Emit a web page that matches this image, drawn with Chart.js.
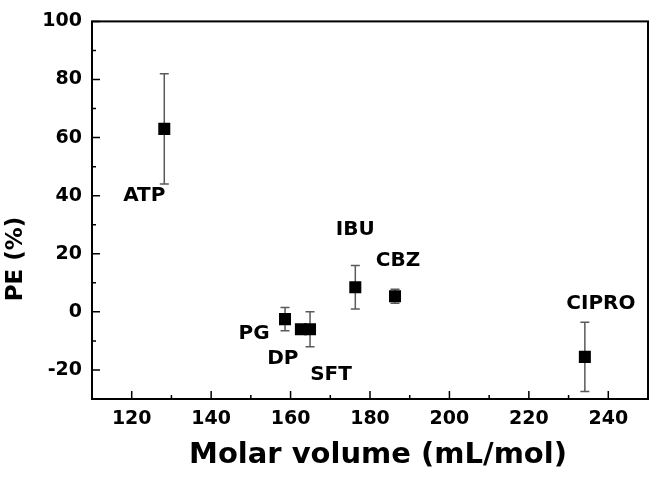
<!DOCTYPE html>
<html lang="en">
<head>
    <meta charset="UTF-8">
    <title>PE vs Molar volume</title>
    <script src="https://cdn.jsdelivr.net/npm/chart.js"></script>
    <style>
        html, body { margin: 0; padding: 0; background: #fff; }
        #wrap { width: 661px; height: 480px; }
    </style>
</head>
<body>
    <div id="wrap"><canvas id="peChart"></canvas></div>

    <script>
        const drugNames = ['ATP', 'PG', 'DP', 'SFT', 'IBU', 'CBZ', 'CIPRO'];
        const molarVolume = [128.2, 158.6, 162.6, 164.9, 176.3, 186.3, 234.1];
        const peValues = [63, -2.5, -6, -6, 8.5, 5.4, -15.5];
        const peErrors = [19, 4, 0, 6, 7.5, 2.4, 11.9];

        const xTicks = [120, 140, 160, 180, 200, 220, 240];
        const xMinorTicks = [130, 150, 170, 190, 210, 230];
        const yTicks = [-20, 0, 20, 40, 60, 80, 100];
        const yMinorTicks = [-10, 10, 30, 50, 70, 90];

        const FONT = '"DejaVu Sans", "Liberation Sans", Arial, sans-serif';

        // label offsets in px from each point
        const labelOffsets = {
            ATP: [-20, 67], PG: [-31, 15], DP: [-18, 30], SFT: [21, 46],
            IBU: [0, -57], CBZ: [3, -35], CIPRO: [16, -53]
        };

        const framePlugin = {
            id: 'framePlugin',
            beforeDatasetsDraw(chart) {
                const ctx = chart.ctx;
                const xs = chart.scales.x, ys = chart.scales.y;
                ctx.save();
                // error bars
                ctx.strokeStyle = '#5a5a5a';
                ctx.lineWidth = 1.5;
                molarVolume.forEach((mv, i) => {
                    const e = peErrors[i];
                    if (!e) return;
                    const px = xs.getPixelForValue(mv);
                    const top = ys.getPixelForValue(peValues[i] + e);
                    const bot = ys.getPixelForValue(peValues[i] - e);
                    ctx.beginPath();
                    ctx.moveTo(px, top); ctx.lineTo(px, bot);
                    ctx.moveTo(px - 4.5, top); ctx.lineTo(px + 4.5, top);
                    ctx.moveTo(px - 4.5, bot); ctx.lineTo(px + 4.5, bot);
                    ctx.stroke();
                });
                ctx.restore();
            },
            afterDraw(chart) {
                const ctx = chart.ctx;
                const a = chart.chartArea;
                const xs = chart.scales.x, ys = chart.scales.y;
                ctx.save();
                // frame
                ctx.strokeStyle = '#000';
                ctx.lineWidth = 2;
                ctx.strokeRect(a.left, a.top, a.right - a.left, a.bottom - a.top);

                // inward ticks
                ctx.lineWidth = 1.5;
                ctx.beginPath();
                xTicks.forEach(v => { const p = xs.getPixelForValue(v); ctx.moveTo(p, a.bottom); ctx.lineTo(p, a.bottom - 8); });
                xMinorTicks.forEach(v => { const p = xs.getPixelForValue(v); ctx.moveTo(p, a.bottom); ctx.lineTo(p, a.bottom - 4); });
                yTicks.forEach(v => { const p = ys.getPixelForValue(v); ctx.moveTo(a.left, p); ctx.lineTo(a.left + 8, p); });
                yMinorTicks.forEach(v => { const p = ys.getPixelForValue(v); ctx.moveTo(a.left, p); ctx.lineTo(a.left + 4, p); });
                ctx.stroke();

                // point labels
                ctx.fillStyle = '#000';
                ctx.font = 'bold 20px ' + FONT;
                ctx.textAlign = 'center';
                ctx.textBaseline = 'middle';
                drugNames.forEach((name, i) => {
                    const off = labelOffsets[name];
                    ctx.fillText(name, xs.getPixelForValue(molarVolume[i]) + off[0], ys.getPixelForValue(peValues[i]) + off[1]);
                });

                // axis titles
                ctx.font = 'bold 29px ' + FONT;
                ctx.fillText('Molar volume (mL/mol)', 378, 455);
                ctx.translate(16, 259);
                ctx.rotate(-Math.PI / 2);
                ctx.font = 'bold 23px ' + FONT;
                ctx.fillText('PE (%)', 0, 0);
                ctx.restore();
            }
        };

        const ctx = document.getElementById('peChart').getContext('2d');
        new Chart(ctx, {
            type: 'scatter',
            data: {
                datasets: [{
                    label: 'PE',
                    data: molarVolume.map((mv, i) => ({ x: mv, y: peValues[i] })),
                    pointStyle: 'rect',
                    pointRadius: 8.5,
                    pointHoverRadius: 8.5,
                    backgroundColor: '#000',
                    borderColor: '#000',
                    borderWidth: 0
                }]
            },
            options: {
                responsive: true,
                maintainAspectRatio: false,
                animation: false,
                layout: { padding: { top: 15, right: 13, left: 0, bottom: 0 } },
                plugins: {
                    legend: { display: false },
                    tooltip: { enabled: false }
                },
                scales: {
                    x: {
                        type: 'linear',
                        min: 110,
                        max: 250,
                        grid: { display: false, drawTicks: false },
                        border: { display: false },
                        afterBuildTicks: s => { s.ticks = xTicks.map(v => ({ value: v })); },
                        afterFit: s => { s.height = 81; },
                        ticks: {
                            padding: 9,
                            color: '#000',
                            font: { family: FONT, size: 19, weight: 'bold' }
                        }
                    },
                    y: {
                        min: -30,
                        max: 100,
                        grid: { display: false, drawTicks: false },
                        border: { display: false },
                        afterBuildTicks: s => { s.ticks = yTicks.map(v => ({ value: v })); },
                        afterFit: s => { s.width = 92; },
                        ticks: {
                            padding: 10,
                            color: '#000',
                            font: { family: FONT, size: 19, weight: 'bold' }
                        }
                    }
                }
            },
            plugins: [framePlugin]
        });
    </script>
</body>
</html>
